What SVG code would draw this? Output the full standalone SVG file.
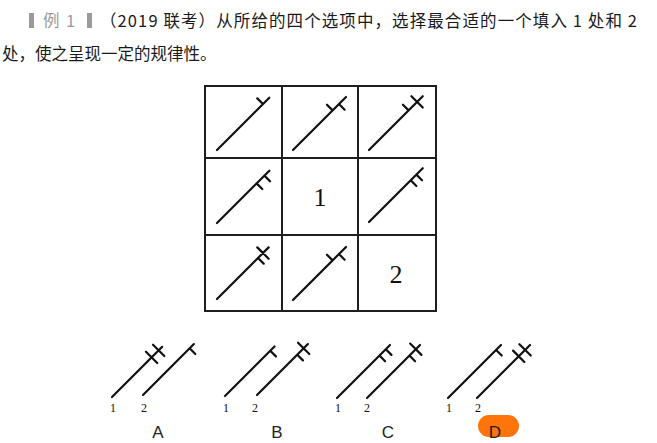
<svg xmlns="http://www.w3.org/2000/svg" width="657" height="443" viewBox="0 0 657 443">
<style>
.t{font-family:"Noto Sans CJK SC","Noto Sans",sans-serif;font-size:16.5px;fill:#1a1a1a}
.g{fill:#9a9a9a}
.grid{stroke:#1e1e1e;stroke-width:2;fill:none}
.f{stroke:#111;stroke-width:2.2;stroke-linecap:round;fill:none}
.num{font-family:"Liberation Serif",serif;font-size:26px;fill:#111;text-anchor:middle}
.sn{font-family:"Liberation Serif",serif;font-size:12px;fill:#111;text-anchor:middle}
.opt{font-family:"Liberation Sans",sans-serif;font-size:17px;fill:#222;text-anchor:middle}
</style>
<rect width="657" height="443" fill="#fff"/>
<g id="title">
<rect class="g" x="29" y="13" width="5" height="15"/>
<text class="t g" x="43" y="27">例</text>
<text class="t g" x="66" y="27">1</text>
<rect class="g" x="87" y="13" width="5" height="15"/>
<text class="t" x="100" y="27" textLength="537" lengthAdjust="spacing">（2019 联考）从所给的四个选项中，选择最合适的一个填入 1 处和 2</text>
<text class="t" x="2" y="60">处，使之呈现一定的规律性。</text>
</g>
<g id="grid">
<rect class="grid" x="205" y="86" width="231" height="225"/>
<path class="grid" d="M282 86V311M358 86V311M205 158H436M205 235H436"/>
</g>
<g id="cell-1-1"><path class="f" transform="translate(217,150) rotate(-45)" d="M0 0H74M65 0V-8"/></g>
<g id="cell-1-2"><path class="f" transform="translate(293,150) rotate(-45)" d="M0 0H75M56 0V-8M65 0V8"/></g>
<g id="cell-1-3"><path class="f" transform="translate(369,150) rotate(-45)" d="M0 0H76M68 -8V8M56 0V-8"/></g>
<g id="cell-2-1"><path class="f" transform="translate(217,223) rotate(-45)" d="M0 0H74M67 0V8M56 0V8"/></g>
<g id="cell-2-2"><text class="num" x="320" y="206">1</text></g>
<g id="cell-2-3"><path class="f" transform="translate(369,222) rotate(-45)" d="M0 0H76M67 0V8M59 0V8"/></g>
<g id="cell-3-1"><path class="f" transform="translate(217,299) rotate(-45)" d="M0 0H73M65 -8V8M58 0V8"/></g>
<g id="cell-3-2"><path class="f" transform="translate(293,300) rotate(-45)" d="M0 0H75M56 0V-8M65 0V8"/></g>
<g id="cell-3-3"><text class="num" x="396" y="283">2</text></g>
<g id="optA">
<path class="f" transform="translate(112,397) rotate(-45)" d="M0 0H71M56 -8V8M66 -8V8"/>
<path class="f" transform="translate(143,395) rotate(-45)" d="M0 0H72M66 0V8"/>
<text class="sn" x="113" y="412">1</text><text class="sn" x="144" y="412">2</text>
<text class="opt" x="158" y="438">A</text>
</g>
<g id="optB">
<path class="f" transform="translate(225,396) rotate(-45)" d="M0 0H70M64 0V8"/>
<path class="f" transform="translate(257,395) rotate(-45)" d="M0 0H72M66 -8V8M57 0V8"/>
<text class="sn" x="226" y="412">1</text><text class="sn" x="255" y="412">2</text>
<text class="opt" x="277" y="438">B</text>
</g>
<g id="optC">
<path class="f" transform="translate(337,398) rotate(-45)" d="M0 0H75M69 0V8M60 0V8"/>
<path class="f" transform="translate(367,398) rotate(-45)" d="M0 0H75M69 -8V8M60 0V8"/>
<text class="sn" x="338" y="412">1</text><text class="sn" x="367" y="412">2</text>
<text class="opt" x="388" y="438">C</text>
</g>
<g id="optD">
<rect x="478" y="415" width="41" height="22" rx="11" fill="#ff750a"/>
<path class="f" transform="translate(448,398) rotate(-45)" d="M0 0H75M68 0V8"/>
<path class="f" transform="translate(477,398) rotate(-45)" d="M0 0H75M59 -8V8M68 -8V8"/>
<text class="sn" x="449" y="412">1</text><text class="sn" x="478" y="412">2</text>
<text class="opt" x="495" y="438">D</text>
</g>
</svg>
